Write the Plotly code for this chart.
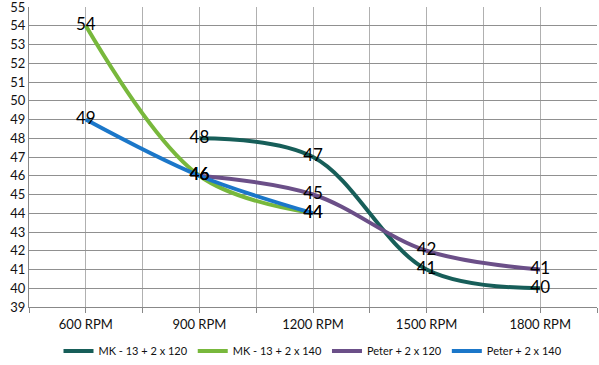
import plotly.graph_objects as go

categories = ["600 RPM", "900 RPM", "1200 RPM", "1500 RPM", "1800 RPM"]
series_names = ["MK - 13 + 2 x 120", "MK - 13 + 2 x 140", "Peter + 2 x 120", "Peter + 2 x 140"]
mk_120 = [None, 48, 47, 41, 40]
mk_140 = [54, 46, 44, None, None]
peter_120 = [None, 46, 45, 42, 41]
peter_140 = [49, 46, 44, None, None]
y_ticks = list(range(39, 56))

colors = ["#175e59", "#78b83c", "#6b4f88", "#1b77c9"]
all_series = [mk_120, mk_140, peter_120, peter_140]

xs = list(range(len(categories)))
fig = go.Figure()
font_family = "Lato, 'Liberation Sans', sans-serif"

for name, vals, col in zip(series_names, all_series, colors):
    fig.add_trace(go.Scatter(
        x=xs, y=vals, name=name, mode="lines",
        line=dict(color=col, width=4, shape="spline", smoothing=1.0),
        hoverinfo="skip",
    ))

# data labels on top of all lines
for vals in all_series:
    px = [x for x, v in zip(xs, vals) if v is not None]
    py = [v for v in vals if v is not None]
    fig.add_trace(go.Scatter(
        x=px, y=py, mode="text", text=[str(v) for v in py],
        textposition="middle center",
        textfont=dict(family=font_family, size=17, color="#000000"),
        showlegend=False, hoverinfo="skip", cliponaxis=False,
    ))

half_ticks = [i * 0.5 - 0.5 for i in range(2 * len(categories) + 1)]
half_text = []
for t in half_ticks:
    if abs(t - round(t)) < 1e-9 and 0 <= round(t) < len(categories):
        half_text.append(categories[int(round(t))])
    else:
        half_text.append("")

fig.update_layout(
    width=599, height=365,
    margin=dict(l=29, r=2, t=7, b=58, autoexpand=False),
    paper_bgcolor="white", plot_bgcolor="white",
    font=dict(family=font_family, size=13, color="#222222"),
    showlegend=True,
    legend=dict(orientation="h", x=0.5, xanchor="center",
                yref="container", y=(365 - 351) / 365, yanchor="middle",
                font=dict(size=11, color="#111111"),
                itemwidth=30,
                tracegroupgap=0, bgcolor="rgba(0,0,0,0)"),
    xaxis=dict(
        range=[-0.5, len(categories) - 0.5],
        tickmode="array", tickvals=half_ticks, ticktext=half_text,
        showgrid=True, gridcolor="#b0b0b0", gridwidth=1,
        showline=True, linecolor="#888888", linewidth=1,
        ticks="outside", ticklen=5, tickcolor="#888888",
        zeroline=False, fixedrange=True, automargin=False,
        tickfont=dict(size=13, color="#111111"),
    ),
    yaxis=dict(
        range=[39, 55.0001],
        tickmode="array", tickvals=y_ticks,
        showgrid=True, gridcolor="#909090", gridwidth=1,
        showline=True, linecolor="#888888", linewidth=1,
        ticks="", zeroline=False, fixedrange=True, automargin=False,
        ticklabeloverflow="allow",
        tickfont=dict(size=13, color="#111111"),
    ),
)

fig.write_html("out.html", config={"displayModeBar": False},
               post_script="document.body.style.margin='0';document.body.style.padding='0';")
